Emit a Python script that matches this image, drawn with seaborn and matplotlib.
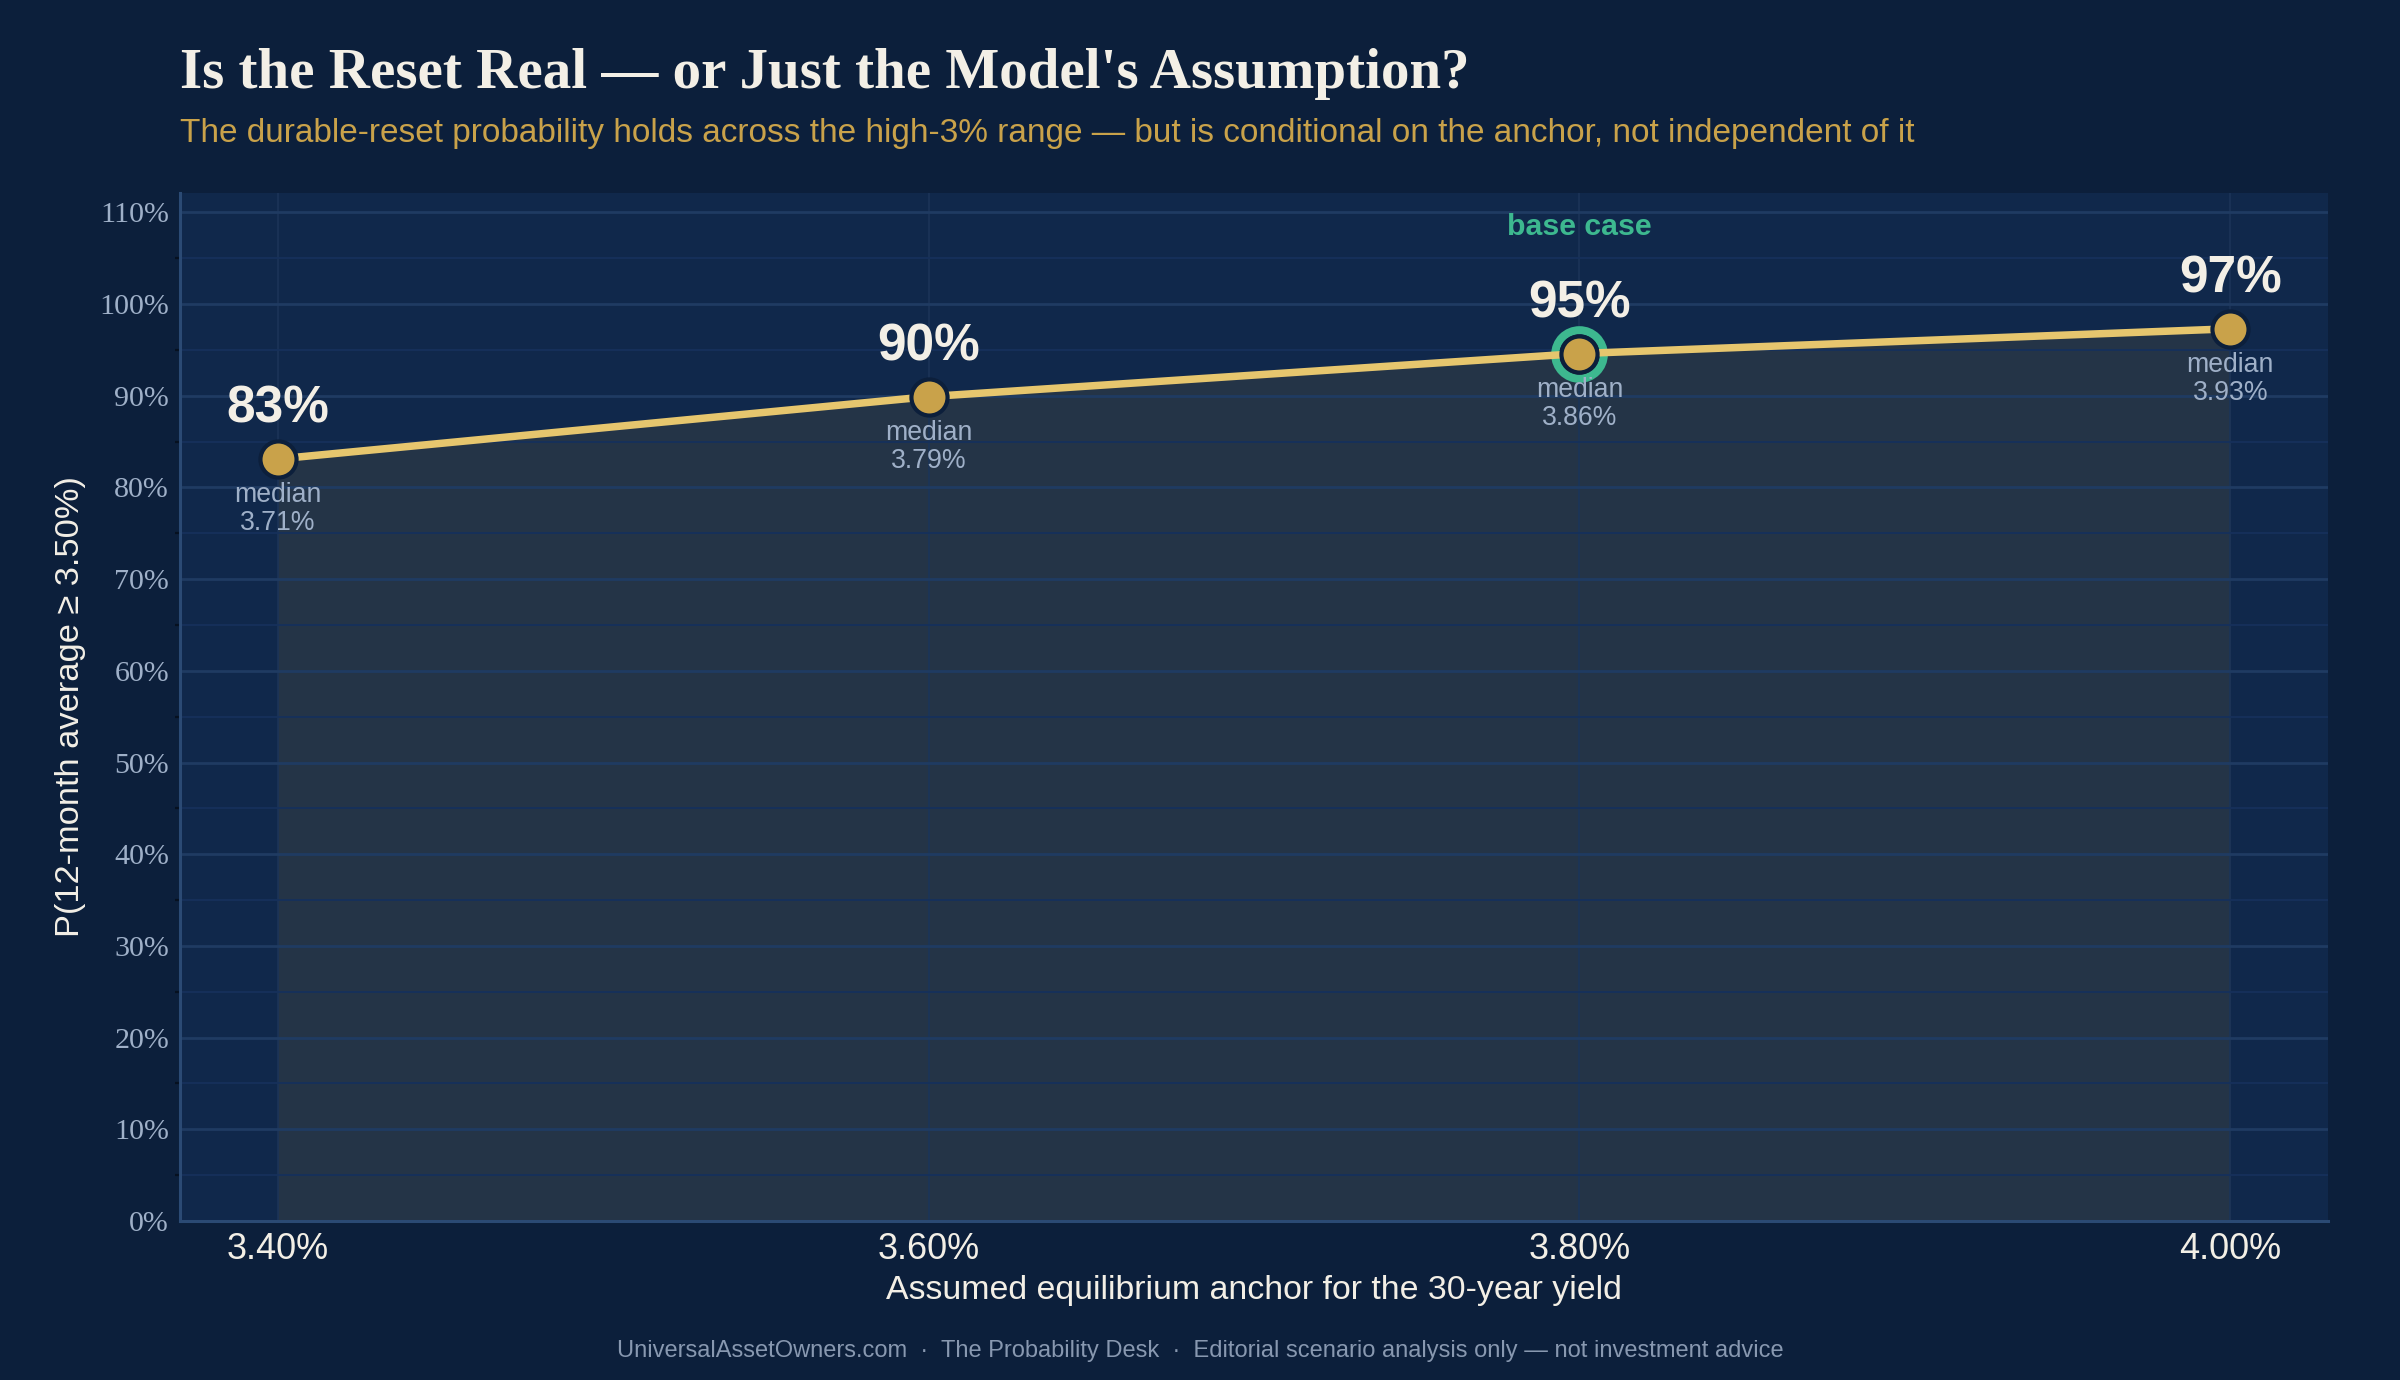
import numpy as np
import pandas as pd
import matplotlib
matplotlib.use("Agg")
import matplotlib.pyplot as plt
import seaborn as sns
from matplotlib.ticker import PercentFormatter, FuncFormatter, MultipleLocator

# data
anchors = [3.40, 3.60, 3.80, 4.00]
prob_reset = [0.831, 0.899, 0.946, 0.973]
median_yield = ["3.71%", "3.79%", "3.86%", "3.93%"]
base_case = 3.80

title = "Is the Reset Real \u2014 or Just the Model's Assumption?"
subtitle = ("The durable-reset probability holds across the high-3% range \u2014 "
            "but is conditional on the anchor, not independent of it")
xlabel = "Assumed equilibrium anchor for the 30-year yield"
ylabel = "P(12-month average \u2265 3.50%)"
footer = ("UniversalAssetOwners.com  \u00b7  The Probability Desk  \u00b7  "
          "Editorial scenario analysis only \u2014 not investment advice")

# colours
FIG_BG = "#0c1f3b"
AX_BG = "#10284b"
FILL = "#243447"
LINE = "#e6c66e"
GOLD = "#c9a24a"
TEAL = "#3db88f"
CREAM = "#f3efe6"
MUTED = "#9fb0c8"
GRID = "#1f3b62"

sns.set_theme(style="dark")
plt.rcParams["font.family"] = ["Liberation Sans", "DejaVu Sans"]

df = pd.DataFrame({"anchor": anchors, "prob": prob_reset})

fig = plt.figure(figsize=(12, 6.9), dpi=200, facecolor=FIG_BG)
ax = fig.add_axes([0.075, 0.1152, 0.895, 0.7449])
ax.set_facecolor(AX_BG)

# shaded area under the curve
ax.fill_between(df["anchor"], 0, df["prob"], color=FILL, lw=0, zorder=0.3)

sns.lineplot(data=df, x="anchor", y="prob", ax=ax, color=LINE, lw=2.7,
             marker="o", markersize=13, markerfacecolor=GOLD,
             markeredgecolor=FIG_BG, markeredgewidth=1.5, zorder=4)

# base case ring
bc = df[df["anchor"] == base_case]
ax.plot(bc["anchor"], bc["prob"], ls="none", marker="o", markersize=17.5,
        markerfacecolor="none", markeredgecolor=TEAL, markeredgewidth=2.9,
        zorder=3.5)
ax.annotate("base case", (bc["anchor"].iloc[0], bc["prob"].iloc[0]),
            xytext=(0, 45.5), textcoords="offset points", ha="center",
            va="center", color=TEAL, fontsize=10.9, fontweight="bold")

for a, p, m in zip(anchors, prob_reset, median_yield):
    ax.annotate(f"{p:.0%}", (a, p), xytext=(0, 18), textcoords="offset points",
                ha="center", va="center", color=CREAM, fontsize=18.5,
                fontweight="bold", zorder=5)
    ax.annotate(f"median\n{m}", (a, p), xytext=(0, -18),
                textcoords="offset points", ha="center", va="center",
                color=MUTED, fontsize=9.6, linespacing=1.1, zorder=5)

ax.set_xlim(3.37, 4.03)
ax.set_ylim(0, 1.121)
ax.set_xticks(anchors)
ax.xaxis.set_major_formatter(FuncFormatter(lambda v, _: f"{v:.2f}%"))
ax.yaxis.set_major_locator(MultipleLocator(0.10))
ax.yaxis.set_minor_locator(MultipleLocator(0.05))
ax.yaxis.set_major_formatter(PercentFormatter(1.0, decimals=0))

ax.set_axisbelow(True)
ax.grid(axis="y", which="major", color=GRID, lw=1.0, zorder=0.5)
ax.grid(axis="y", which="minor", color="#16305a", lw=0.7, zorder=0.5)
ax.grid(axis="x", which="major", color="#1b3458", lw=0.6, zorder=0.5)

ax.tick_params(axis="x", length=0, pad=4, colors=CREAM, labelsize=13)
ax.tick_params(axis="y", which="major", length=0, pad=4, labelcolor=MUTED,
               labelsize=10.8)
ax.tick_params(axis="y", which="minor", length=1.8, width=0.8,
               color="#06101f", left=True)
for lab in ax.get_yticklabels():
    lab.set_family(["Liberation Serif", "DejaVu Serif"])

for side in ["top", "right"]:
    ax.spines[side].set_visible(False)
for side in ["left", "bottom"]:
    ax.spines[side].set_visible(True)
    ax.spines[side].set_color("#2b4a74")
    ax.spines[side].set_linewidth(1.1)

ax.set_xlabel(xlabel, color=CREAM, fontsize=12.2)
ax.set_ylabel(ylabel, color=CREAM, fontsize=12.4)
ax.xaxis.set_label_coords(0.5, -0.0525)
ax.yaxis.set_label_coords(-0.0438, 0.5)

fig.text(0.075, 0.936, title, color=CREAM, fontsize=20.5, fontweight="bold",
         family=["Liberation Serif", "DejaVu Serif"], va="baseline")
fig.text(0.075, 0.897, subtitle, color=GOLD, fontsize=12, va="baseline")
fig.text(0.5, 0.021, footer, color="#8898b0", fontsize=8.5, ha="center",
         va="center")

fig.savefig("out.png", dpi=200, facecolor=FIG_BG)
